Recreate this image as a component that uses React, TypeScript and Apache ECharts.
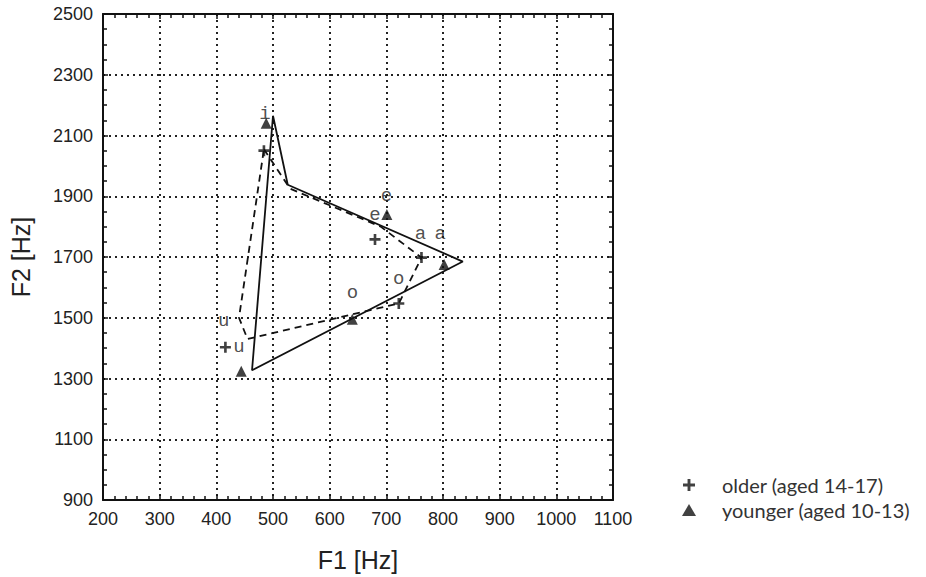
import React, { useEffect, useRef } from "react";
import * as echarts from "echarts";

// Older speakers (aged 14-17): mean F1/F2 per vowel (plus markers)
const olderPoints: [number, number][] = [
  [484, 2050], // i
  [680, 1758], // e
  [762, 1698], // a
  [722, 1547], // o
  [416, 1403], // u
];
// Younger speakers (aged 10-13): mean F1/F2 per vowel (triangle markers)
const youngerPoints: [number, number][] = [
  [488, 2140], // i
  [701, 1840], // e
  [802, 1675], // a
  [640, 1495], // o
  [444, 1324], // u
];
// Dashed outline (older)
const olderOutline: [number, number][] = [
  [484, 2055],
  [530, 1925],
  [690, 1800],
  [762, 1698],
  [722, 1547],
  [455, 1430],
  [440, 1500],
  [484, 2055],
];
// Solid outline (younger)
const youngerOutline: [number, number][] = [
  [500, 2165],
  [526, 1938],
  [835, 1685],
  [463, 1327],
  [500, 2165],
];
// Vowel labels
const vowelLabels: [number, number, string][] = [
  [486, 2170, "i"],
  [700, 1900, "e"],
  [680, 1837, "e"],
  [760, 1775, "a"],
  [795, 1775, "a"],
  [640, 1583, "o"],
  [722, 1626, "o"],
  [413, 1490, "u"],
  [440, 1403, "u"],
];

const xRange = [200, 1100];
const yRange = [900, 2500];
const legendNames = ["older (aged 14-17)", "younger (aged 10-13)"];

const plusPath =
  "path://M-1.2,-5 L1.2,-5 L1.2,-1.2 L5,-1.2 L5,1.2 L1.2,1.2 L1.2,5 L-1.2,5 L-1.2,1.2 L-5,1.2 L-5,-1.2 L-1.2,-1.2 Z";

export default function App() {
  const ref = useRef<HTMLDivElement>(null);
  useEffect(() => {
    document.body.style.margin = "0";
    const chart = echarts.init(ref.current!, null, { renderer: "svg" });
    const axisFont = {
      fontFamily: "Liberation Sans, Arial, sans-serif",
      fontSize: 18,
      color: "#222",
      formatter: (v: number) => String(v),
    };
    const gridLine = { show: true, lineStyle: { color: "#222", type: [2, 4], width: 2 } };
    const common = {
      axisLine: { show: true, lineStyle: { color: "#111", width: 2 } },
      axisTick: { show: true, inside: true, length: 5, lineStyle: { color: "#111", width: 1.5 } },
      minorTick: { show: true, length: 4, lineStyle: { color: "#111", width: 1.5 } },
    };
    chart.setOption({
      animation: false,
      backgroundColor: "#fff",
      grid: { left: 98, top: 14, right: 313, bottom: 76, containLabel: false },
      xAxis: [
        {
          type: "value",
          min: xRange[0],
          max: xRange[1],
          interval: 100,
          ...common,
          minorTick: { ...common.minorTick, splitNumber: 5 },
          splitLine: gridLine,
          axisLabel: { ...axisFont, margin: 10 },
          name: "F1 [Hz]",
          nameLocation: "middle",
          nameGap: 47,
          nameTextStyle: { fontFamily: "Liberation Sans, Arial, sans-serif", fontSize: 25, color: "#222" },
        },
        {
          type: "value",
          position: "top",
          min: xRange[0],
          max: xRange[1],
          interval: 100,
          ...common,
          minorTick: { ...common.minorTick, splitNumber: 5 },
          splitLine: { show: false },
          axisLabel: { show: false },
        },
      ],
      yAxis: [
        {
          type: "value",
          min: yRange[0],
          max: yRange[1],
          interval: 200,
          ...common,
          minorTick: { ...common.minorTick, splitNumber: 4 },
          splitLine: gridLine,
          axisLabel: { ...axisFont, margin: 10 },
          name: "F2 [Hz]",
          nameLocation: "middle",
          nameGap: 70,
          nameTextStyle: { fontFamily: "Liberation Sans, Arial, sans-serif", fontSize: 25, color: "#222" },
        },
        {
          type: "value",
          position: "right",
          min: yRange[0],
          max: yRange[1],
          interval: 200,
          ...common,
          minorTick: { ...common.minorTick, splitNumber: 4 },
          splitLine: { show: false },
          axisLabel: { show: false },
        },
      ],
      legend: {
        left: 677,
        top: 470,
        orient: "vertical",
        itemGap: 5,
        itemWidth: 14,
        itemHeight: 12,
        data: legendNames,
        textStyle: {
          fontFamily: "Lato, DejaVu Sans, sans-serif",
          fontSize: 20,
          lineHeight: 20,
          color: "#333",
          padding: [0, 0, 0, 21],
        },
      },
      series: [
        {
          name: "older outline",
          type: "line",
          data: olderOutline,
          symbol: "none",
          lineStyle: { color: "#111", width: 1.8, type: [7, 5] },
          z: 2,
        },
        {
          name: "younger outline",
          type: "line",
          data: youngerOutline,
          symbol: "none",
          lineStyle: { color: "#111", width: 1.8 },
          z: 2,
        },
        {
          name: legendNames[0],
          type: "scatter",
          data: olderPoints,
          symbol: plusPath,
          symbolSize: 11,
          itemStyle: { color: "#111" },
          z: 3,
        },
        {
          name: legendNames[1],
          type: "scatter",
          data: youngerPoints,
          symbol: "triangle",
          symbolSize: 11,
          itemStyle: { color: "#111" },
          z: 3,
        },
        {
          name: "labels",
          type: "scatter",
          data: vowelLabels.map((v) => ({ value: [v[0], v[1]], name: v[2] })),
          symbolSize: 0,
          label: {
            show: true,
            position: "inside",
            formatter: (p: any) => p.name,
            fontFamily: "Liberation Mono, DejaVu Sans Mono, monospace",
            fontSize: 19,
            color: "#222",
          },
          z: 4,
        },
      ],
    });
    return () => chart.dispose();
  }, []);
  return <div ref={ref} style={{ width: 926, height: 577 }} />;
}
